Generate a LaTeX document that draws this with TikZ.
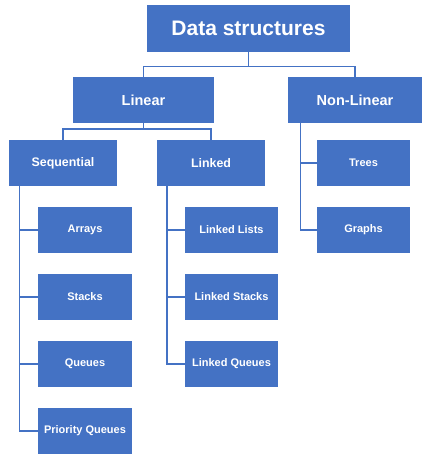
\documentclass[tikz,border=0pt]{standalone}
\usepackage{fontspec}
\setmainfont{Liberation Sans}
\usetikzlibrary{positioning}
\definecolor{dsblue}{HTML}{4472C4}

\begin{document}
\begin{tikzpicture}
[x=1pt,y=-1pt,
box/.style={fill=dsblue,text=white,font=\bfseries\fontsize{11}{13}\selectfont,minimum height=46pt,inner sep=0pt},
leaf/.style={box,minimum width=94pt},
link/.style={draw=dsblue,line width=1.1pt}]
\useasboundingbox (0,0) rectangle (432,460);
\node[box,minimum width=203pt,minimum height=47pt,font=\bfseries\fontsize{21}{25}\selectfont] (ds) at (248.5,28.5) {Data structures};
\node[box,minimum width=141pt,font=\bfseries\fontsize{14.5}{17}\selectfont] (lin) at (143.5,100) {Linear};
\node[box,minimum width=134pt,font=\bfseries\fontsize{14.5}{17}\selectfont] (nonlin) at (355,100) {Non-Linear};
\node[box,minimum width=108pt,font=\bfseries\fontsize{12.4}{15}\selectfont] (seq) at (63,163) {Sequential};
\node[box,minimum width=108pt,font=\bfseries\fontsize{12.4}{15}\selectfont] (lnk) at (211,163) {Linked};
\node[leaf,minimum width=93pt] (trees) at (363.5,163) {Trees};
\node[leaf,minimum width=93pt] (graphs) at (363.5,230) {Graphs};
\node[leaf] (arr) at (85,230) {Arrays};
\node[leaf] (stk) at (85,297) {Stacks};
\node[leaf] (que) at (85,364) {Queues};
\node[leaf] (pq) at (85,431) {Priority Queues};
\node[leaf,minimum width=93pt] (ll) at (231.5,230) {Linked Lists};
\node[leaf,minimum width=93pt] (ls) at (231.5,297) {Linked Stacks};
\node[leaf,minimum width=93pt] (lq) at (231.5,364) {Linked Queues};
\coordinate (fork1) at (0,66.5);
\coordinate (fork2) at (0,129);
\coordinate (seqbar) at (19.3,0);
\coordinate (lnkbar) at (167,0);
\coordinate (nlbar) at (300.3,0);
\draw[link] (ds.south) -- (ds.south |- fork1) -| (lin.north);
\draw[link] (ds.south |- fork1) -| (nonlin.north);
\draw[link] (lin.south) -- (lin.south |- fork2) -| (seq.north);
\draw[link] (lin.south |- fork2) -| (lnk.north);
\draw[link] (seqbar |- seq.south) |- (pq.west);
\foreach \n in {arr,stk,que}
  \draw[link] (seqbar |- \n.west) -- (\n.west);
\draw[link] (lnkbar |- lnk.south) |- (lq.west);
\foreach \n in {ll,ls}
  \draw[link] (lnkbar |- \n.west) -- (\n.west);
\draw[link] (nlbar |- nonlin.south) |- (graphs.west);
\draw[link] (nlbar |- trees.west) -- (trees.west);
\end{tikzpicture}
\end{document}
